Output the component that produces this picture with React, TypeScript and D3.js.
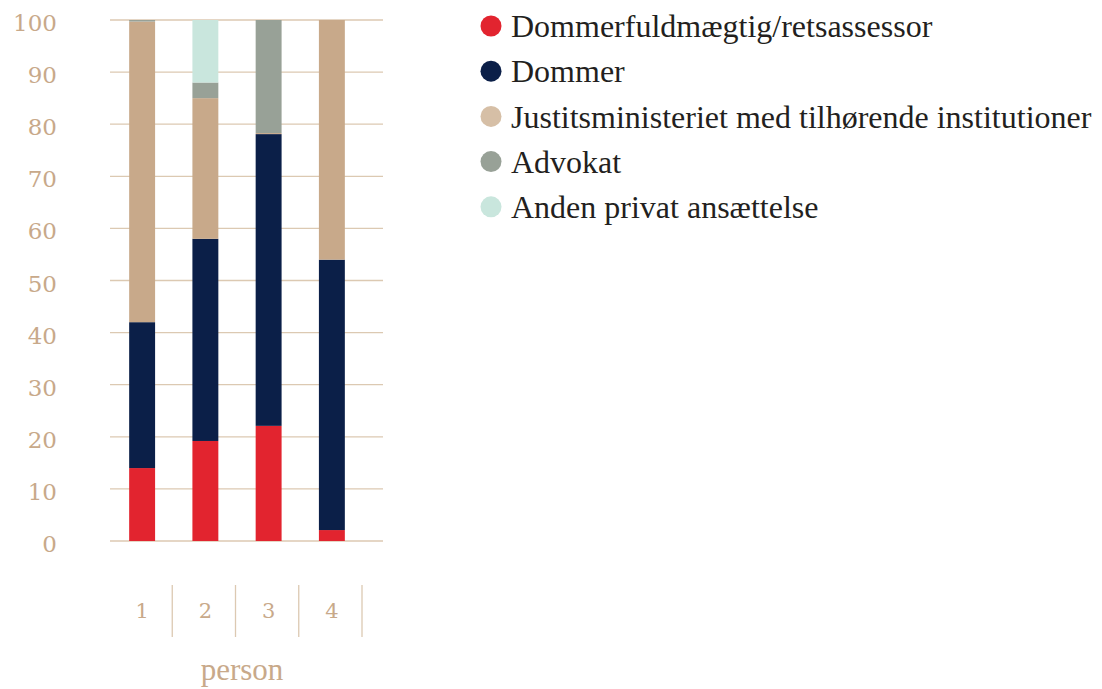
import React from "react";
import * as d3 from "d3";

const categories = ["1", "2", "3", "4"];
const seriesNames = [
  "Dommerfuldmægtig/retsassessor",
  "Dommer",
  "Justitsministeriet med tilhørende institutioner",
  "Advokat",
  "Anden privat ansættelse",
];
const dommerfuldmaegtig = [14.0, 19.2, 22.1, 2.1];
const dommer = [28.0, 38.8, 56.0, 51.9];
const justits = [57.7, 27.0, 0.2, 46.0];
const advokat = [0.3, 3.0, 21.7, 0];
const andenPrivat = [0, 12.0, 0, 0];
const yTicks = [0, 10, 20, 30, 40, 50, 60, 70, 80, 90, 100];

const barColors = ["#E2242F", "#0B1F48", "#C8A98A", "#98A197", "#C9E6DD"];
const legendColors = ["#E2242F", "#0B1F48", "#D6BFA6", "#98A197", "#C9E6DD"];
const axisColor = "#C8A98A";
const gridColor = "#DCC9B2";

export default function App() {
  const W = 1102, H = 689;
  const y = d3.scaleLinear().domain([0, 100]).range([541, 20]);
  const x = d3.scaleBand<string>().domain(categories).range([110.5, 363.5]).paddingInner(0.59).paddingOuter(0.295);
  const rows = categories.map((c, i) => {
    const r: any = { cat: c };
    r.s0 = dommerfuldmaegtig[i];
    r.s1 = dommer[i];
    r.s2 = justits[i];
    r.s3 = advokat[i];
    r.s4 = andenPrivat[i];
    return r;
  });
  const stack = d3.stack<any>().keys(["s0", "s1", "s2", "s3", "s4"]);
  const layers = stack(rows);
  const step = x.step();

  return (
    <svg width={W} height={H} style={{ position: "absolute", left: 0, top: 0 }} fontFamily="'Liberation Serif', serif">
      {yTicks.map((t) => (
        <g key={t}>
          <line x1={110} x2={383} y1={y(t)} y2={y(t)} stroke={gridColor} strokeWidth={1.3} />
          <text x={57} y={y(t) + 3} dy="0.35em" textAnchor="end" fill={axisColor} fontSize={23} fontFamily="'DejaVu Serif', serif">{t}</text>
        </g>
      ))}
      {layers.map((layer, li) => (
        <g key={li} fill={barColors[li]}>
          {layer.map((d, i) => (
            d[1] - d[0] > 0 ? (
              <rect key={i} x={x(categories[i])!} width={x.bandwidth()} y={y(d[1])} height={y(d[0]) - y(d[1])} />
            ) : null
          ))}
        </g>
      ))}
      {categories.map((c) => (
        <g key={c}>
          <line x1={x(c)! + x.bandwidth() / 2 + step / 2 - 1.5} x2={x(c)! + x.bandwidth() / 2 + step / 2 - 1.5} y1={585} y2={637} stroke={gridColor} strokeWidth={1.3} />
          <text x={x(c)! + x.bandwidth() / 2} y={611} dy="0.35em" textAnchor="middle" fill={axisColor} fontSize={21} fontFamily="'DejaVu Serif', serif">{c}</text>
        </g>
      ))}
      <text x={242} y={680} textAnchor="middle" fill={axisColor} fontSize={31}>person</text>
      {seriesNames.map((n, i) => (
        <g key={n} transform={`translate(0, ${26 + i * 45.2})`}>
          <circle cx={491} cy={0} r={10.5} fill={legendColors[i]} />
          <text x={511} y={0} dy="0.35em" fill="#231F20" fontSize={32}>{n}</text>
        </g>
      ))}
    </svg>
  );
}
